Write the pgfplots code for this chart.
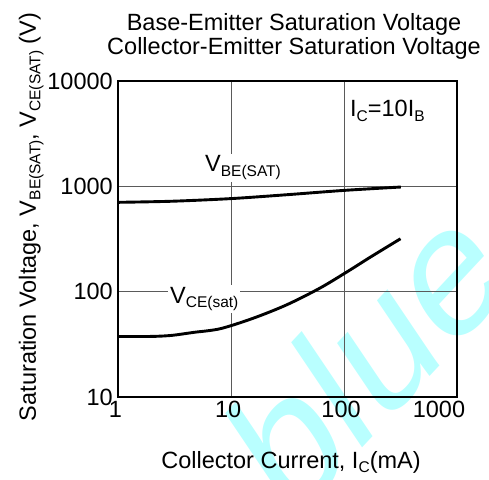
\documentclass[border=0pt]{standalone}
\usepackage{pgfplots}
\pgfplotsset{compat=1.18}
\usepackage{fontspec}
\setmainfont{Liberation Sans}
\definecolor{wm}{RGB}{185,255,255}
\definecolor{gridc}{RGB}{90,90,90}
\newcommand\sub[1]{\raisebox{-4.5pt}{\fontsize{15.5}{16}\selectfont #1}}
\newcommand\bigf{\fontsize{23.5}{24}\selectfont}
\begin{document}
\begin{tikzpicture}
\path[use as bounding box] (-118.3pt,-82pt) rectangle (370.7pt,397pt);
% watermark
\node[overlay, text=wm, inner sep=0pt, font=\fontsize{175}{175}\selectfont,
      cm={0.682,0.731,-0.559,0.829,(0,0)}] at (248pt,42pt) {blue};
\begin{axis}[
  scale only axis, width=338.7pt, height=316pt,
  xmode=log, ymode=log,
  xmin=1, xmax=1000, ymin=10, ymax=10000,
  xtick={1,10,100,1000}, xticklabels={1,10,100,{\hspace*{-30pt}1000}},
  ytick={10,100,1000,10000}, yticklabels={10,100,1000,10000},
  minor xtick={}, minor ytick={},
  major tick length=0pt,
  tick style={draw=none},
  grid=major,
  major grid style={draw=gridc, line width=1pt},
  axis line style={line width=1.6pt},
  ticklabel style={font=\bigf},
  xticklabel style={yshift=-1pt, xshift=-3pt},
  yticklabel style={xshift=-2pt},
  clip=false,
]
\addplot[black, line width=2.9pt, smooth] coordinates {
 (1,705) (3,722) (10,765) (30,830) (100,915) (318,985)};
\addplot[black, line width=2.9pt, smooth] coordinates {
 (1,37.5) (2,37.6) (3,38.5) (4.6,41) (8,44.5) (15.7,56) (31,75) (61,108) (108,156) (170,212) (316,318)};
\end{axis}
% labels inside
\node[fill=white, inner sep=2pt, anchor=base west, font=\bigf] at (84.7pt,225pt) {V\sub{BE(SAT)}};
\node[fill=white, inner sep=2pt, anchor=base west, font=\bigf] at (49.7pt,94pt) {V\sub{CE(sat)}};
\node[fill=white, inner sep=5pt, anchor=base west, font=\bigf] at (226.7pt,280pt) {I\sub{C}=10I\sub{B}};
% titles
\node[anchor=base, font=\bigf, inner sep=0pt] at (175.7pt,366.3pt) {Base-Emitter Saturation Voltage};
\node[anchor=base, font=\bigf, inner sep=0pt] at (175.7pt,342pt) {Collector-Emitter Saturation Voltage};
% axis labels
\node[anchor=base, font=\bigf, inner sep=0pt] at (172.7pt,-71pt) {Collector Current, I\sub{C}(mA)};
\node[anchor=base, rotate=90, font=\bigf, inner sep=0pt] at (-82.3pt,180pt) {Saturation Voltage, V\sub{BE(SAT)}, V\sub{CE(SAT)} (V)};
\end{tikzpicture}
\end{document}
